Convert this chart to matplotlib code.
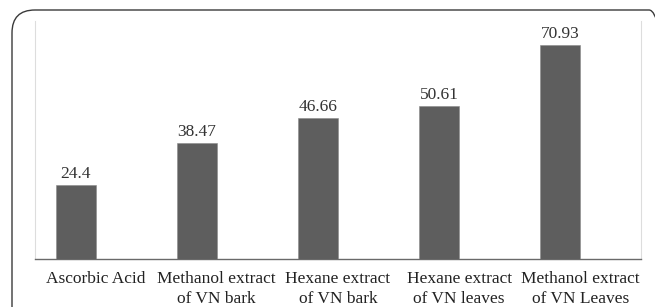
import matplotlib

matplotlib.use("Agg")
import matplotlib.pyplot as plt
import numpy as np
from matplotlib.patches import FancyBboxPatch

categories = ["Ascorbic Acid", "Methanol extract\nof VN bark", "Hexane extract\nof VN bark",
              "Hexane extract\nof VN leaves", "Methanol extract\nof VN Leaves"]
values = [24.4, 38.47, 46.66, 50.61, 70.93]
value_labels = ["24.4", "38.47", "46.66", "50.61", "70.93"]

plt.rcParams["font.family"] = ["Liberation Serif", "DejaVu Serif"]

fig = plt.figure(figsize=(6.55, 3.07), dpi=100)
W, H = 655, 307

# rounded outer frame, cropped at bottom/right like the source
frame = FancyBboxPatch((12 / W, -40 / H), 660 / W, (307 - 10 + 40) / H,
                       boxstyle="round,pad=0,rounding_size=0.035",
                       transform=fig.transFigure, fill=False,
                       edgecolor="#3a3a3a", linewidth=1.0, mutation_aspect=W / H)
fig.patches.append(frame)

ax = fig.add_axes([35 / W, 48.3 / H, (641 - 35) / W, (258.7 - 21) / H])
x = np.arange(len(values))
bw = 0.33
bars = ax.bar(x - bw / 2, values, width=bw, color="#5e5e5e", edgecolor="#8a8a8a", linewidth=0.4, zorder=3)
for b, lab in zip(bars, value_labels):
    ax.text(b.get_x() + b.get_width() / 2, b.get_height() + 1.0, lab,
            ha="center", va="bottom", fontsize=12.5, color="#333333")

ax.set_xlim(-0.5, 4.5)
ax.set_ylim(0, 79)
ax.set_yticks([])
ax.set_xticks(x)
ax.set_xticklabels(categories, fontsize=12.5, color="#222222", linespacing=1.3)
ax.tick_params(axis="x", length=0, pad=9)
ax.spines["top"].set_visible(False)
ax.spines["left"].set_color("#dddddd")
ax.spines["right"].set_color("#dddddd")
ax.spines["bottom"].set_color("#6a6a6a")
ax.spines["bottom"].set_linewidth(1.0)

fig.savefig("out.png", dpi=100)
plt.close(fig)
